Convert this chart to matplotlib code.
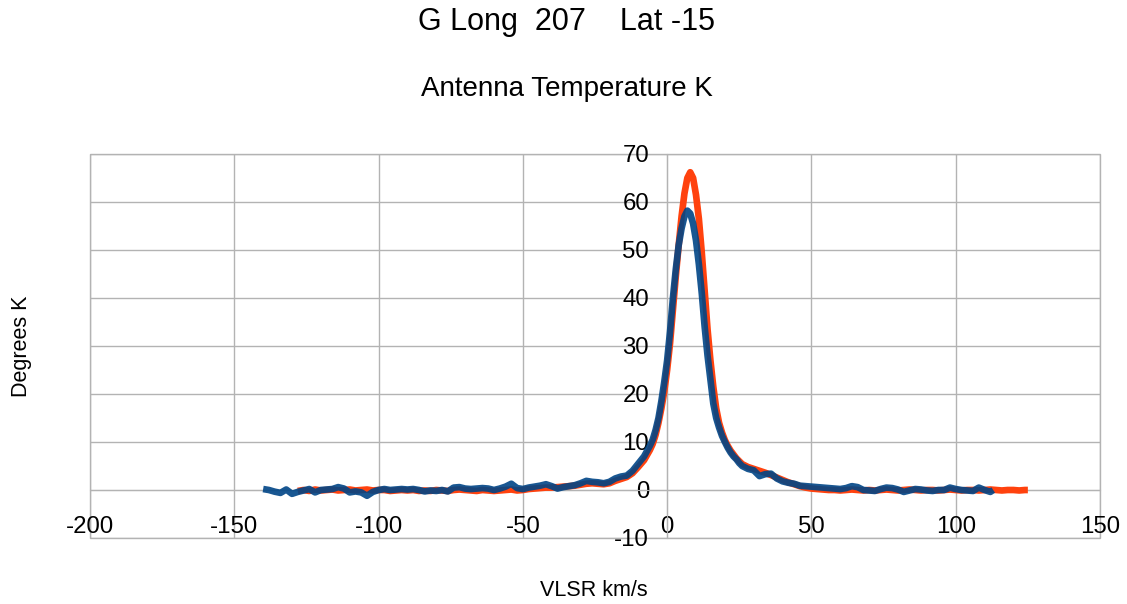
import matplotlib
matplotlib.use("Agg")
import matplotlib.pyplot as plt
from matplotlib.patches import Rectangle

plt.rcParams['font.family'] = ['Liberation Sans', 'DejaVu Sans']
plt.rcParams['axes.unicode_minus'] = False

# Spectrum 1 (blue): velocity (km/s) and antenna temperature (K)
blue_v = [-140, -138, -136, -134, -132, -130, -128, -126, -124, -122, -120, -118,
          -116, -114, -112, -110, -108, -106, -104, -102, -100, -98, -96, -94,
          -92, -90, -88, -86, -84, -82, -80, -78, -76, -74, -72, -70, -68, -66,
          -64, -62, -60, -58, -56, -54, -52, -50, -48, -46, -44, -42, -40, -38,
          -36, -34, -32, -30, -28, -26, -24, -22, -20, -18, -16, -14, -12, -10,
          -8, -6, -5, -4, -3, -2, -1, 0, 1, 2, 3, 4, 5, 6, 7, 8, 9, 10, 11, 12,
          13, 14, 15, 16, 17, 18, 19, 20, 21, 22, 23, 24, 25, 26, 28, 30, 32, 34,
          36, 38, 40, 42, 44, 46, 48, 50, 52, 54, 56, 58, 60, 62, 64, 66, 68, 70,
          72, 74, 76, 78, 80, 82, 84, 86, 88, 90, 92, 94, 96, 98, 100, 102, 104,
          106, 108, 110, 112, 113]
blue_t = [0.2, 0.0, -0.35, -0.6, 0.1, -0.8, -0.4, -0.1, 0.2, -0.5, 0.0, 0.1,
          0.2, 0.6, 0.3, -0.5, -0.3, -0.5, -1.2, -0.4, 0.0, 0.2, 0.0, 0.1,
          0.2, 0.1, 0.2, 0.0, -0.3, -0.1, -0.2, 0.0, -0.3, 0.5, 0.6, 0.3, 0.2, 0.3,
          0.4, 0.3, 0.0, 0.3, 0.7, 1.3, 0.4, 0.2, 0.5, 0.7, 0.9, 1.2, 0.8, 0.3,
          0.6, 0.8, 1.0, 1.4, 1.9, 1.7, 1.6, 1.4, 1.7, 2.4, 2.8, 3.0, 4.0, 5.5,
          7.0, 9.2, 10.5, 12.5, 15.0, 18.5, 22.5, 27.0, 33.0, 40.0, 46.0, 51.0, 54.5, 57.0, 58.2, 57.6, 55.5, 52.0, 47.0, 41.0,
          34.0, 28.0, 23.0, 18.0, 15.0, 13.0, 11.3, 10.0, 8.8, 7.8, 7.0, 6.4, 5.6, 5.0, 4.4, 4.1, 2.9, 3.3,
          3.4, 2.4, 1.8, 1.5, 1.3, 0.9, 0.8, 0.7, 0.6, 0.5, 0.4, 0.3, 0.2, 0.4, 0.8, 0.6, 0.0, -0.1,
          -0.2, 0.2, 0.5, 0.4, 0.1, -0.4, -0.1, 0.2, 0.1, -0.1, -0.2, 0.0, 0.0, 0.5, 0.2, 0.0, -0.1,
          -0.2, 0.5, 0.0, -0.4, 0.0]

# Spectrum 2 (orange)
orange_v = [-128, -126, -124, -122, -120, -118, -116, -114, -112, -110, -108, -106,
            -104, -102, -100, -98, -96, -94, -92, -90, -88, -86, -84, -82, -80,
            -78, -76, -74, -72, -70, -68, -66, -64, -62, -60, -58, -56, -54, -52,
            -50, -48, -46, -44, -42, -40, -38, -36, -34, -32, -30, -28, -26, -24,
            -22, -20, -18, -16, -14, -12, -10, -8, -6, -5, -4, -3, -2, -1, 0, 1,
            2, 3, 4, 5, 6, 7, 8, 9, 10, 11, 12, 13, 14, 15, 16, 17, 18, 19, 20, 21,
            22, 23, 24, 25, 26, 28, 30, 32, 34, 36, 38, 40, 42, 44, 46, 48, 50, 52,
            54, 56, 58, 60, 62, 64, 66, 68, 70, 72, 74, 76, 78, 80, 82, 84, 86, 88,
            90, 92, 94, 96, 98, 100, 102, 104, 106, 108, 110, 112, 114, 116, 118,
            120, 122, 124, 125]
orange_t = [-0.2, 0.0, -0.2, 0.1, -0.1, 0.0, 0.1, -0.1, 0.0, 0.1, -0.1, 0.0,
            0.1, -0.1, 0.0, 0.0, -0.2, -0.1, 0.0, -0.1, 0.0, -0.2, -0.1, -0.2, 0.0,
            -0.1, -0.2, 0.0, 0.1, 0.0, -0.1, -0.2, 0.0, -0.1, -0.2, -0.1, 0.0, 0.1, -0.1,
            0.0, 0.2, 0.3, 0.4, 0.5, 0.5, 0.6, 0.7, 0.8, 0.9, 1.1, 1.3, 1.4, 1.3,
            1.2, 1.4, 1.9, 2.3, 2.7, 3.5, 4.8, 6.2, 8.3, 9.6, 11.5, 14.0, 17.0, 20.5, 25.0, 30.5,
            37.5, 44.5, 51.0, 57.0, 61.8, 65.0, 66.2, 65.0, 61.5, 56.5, 49.5, 41.5, 33.5, 27.0, 21.5, 17.0, 14.0, 12.0, 10.4, 9.2,
            8.2, 7.4, 6.6, 6.0, 5.4, 4.8, 4.4, 4.0, 3.6, 3.1, 2.6, 2.1, 1.6, 1.2, 0.8, 0.5, 0.3, 0.2,
            0.1, 0.0, 0.0, -0.1, 0.0, 0.1, 0.0, -0.1, 0.0, -0.1, 0.0, 0.1, 0.0, -0.1, 0.0, 0.1, 0.0, -0.1,
            0.0, 0.0, -0.1, 0.0, 0.1, 0.0, -0.1, 0.0, 0.0, -0.1, 0.0, 0.1, 0.0, -0.1, 0.0,
            0.0, -0.1, 0.0, 0.0]

x_ticks = [-200, -150, -100, -50, 0, 50, 100, 150]
y_ticks = [-10, 0, 10, 20, 30, 40, 50, 60, 70]

grid_col = '#b3b3b3'

fig = plt.figure(figsize=(11.27, 6.04), dpi=100)
ax = fig.add_axes([90 / 1127, 1 - 538 / 604, 1010 / 1127, 384 / 604])

ax.plot(orange_v, orange_t, color='#ff420e', lw=4.8, solid_joinstyle='round',
        solid_capstyle='butt', zorder=3)
ax.plot(blue_v, blue_t, color='#004586', lw=4.8, solid_joinstyle='round',
        solid_capstyle='butt', zorder=4, alpha=0.9)

ax.set_xlim(-200, 150)
ax.set_ylim(-10, 70)
ax.set_xticks(x_ticks)
ax.set_yticks(y_ticks)
ax.grid(True, color=grid_col, lw=1.0)
ax.set_axisbelow(True)

# axes cross at zero, like the spreadsheet chart
for s in ('top', 'right'):
    ax.spines[s].set_visible(False)
ax.spines['left'].set_position(('data', 0))
ax.spines['bottom'].set_position(('data', 0))
ax.spines['left'].set_color(grid_col)
ax.spines['bottom'].set_color(grid_col)
ax.add_patch(Rectangle((0, 0), 1, 1, transform=ax.transAxes, fill=False,
                       edgecolor=grid_col, lw=1.0, zorder=0.5, clip_on=False))

ax.tick_params(axis='both', length=0, labelsize=17.3, colors='black')
ax.tick_params(axis='y', pad=13)
ax.tick_params(axis='x', pad=18.5)

fig.text(0.503, 1 - 22 / 604, 'G Long  207    Lat -15', ha='center', va='center',
         fontsize=22)
fig.text(0.503, 1 - 89 / 604, 'Antenna Temperature K', ha='center', va='center',
         fontsize=20)
fig.text(22 / 1127, 1 - 346 / 604, 'Degrees K', rotation=90, ha='center',
         va='center', fontsize=15.5)
fig.text(594 / 1127, 1 - 591 / 604, 'VLSR km/s', ha='center', va='center',
         fontsize=15.5)

fig.savefig('out.png', dpi=100)
